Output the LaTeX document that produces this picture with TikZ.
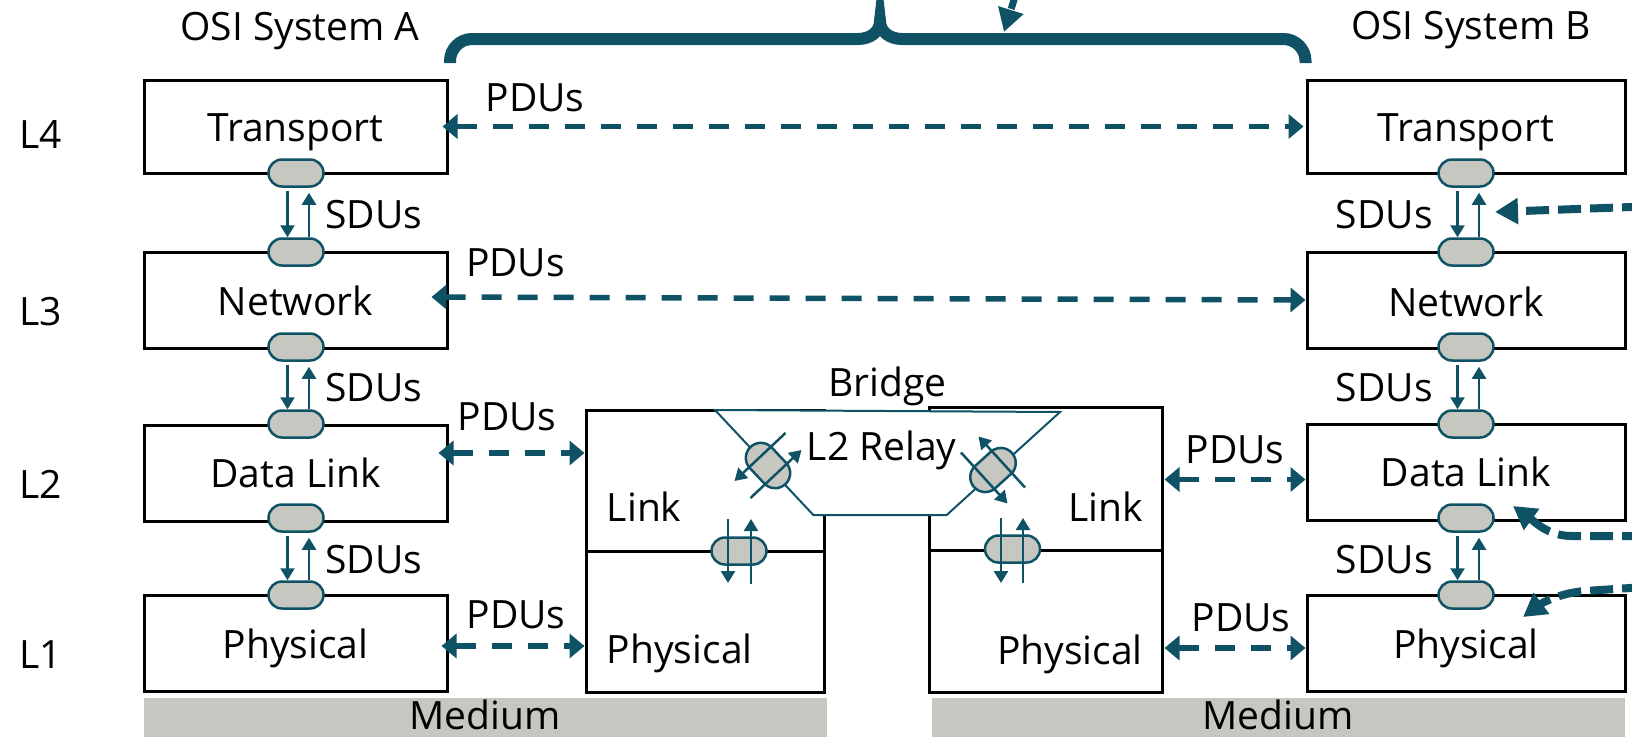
\documentclass[tikz,border=0pt]{standalone}
\usepackage{fontspec}
\setmainfont{Open Sans}
\usetikzlibrary{arrows.meta,calc}
\definecolor{hpeteal}{RGB}{15,82,101}
\definecolor{capgray}{RGB}{198,199,193}
\begin{document}
\begin{tikzpicture}[x=1pt,y=-1pt,
  txt/.style={font=\fontsize{39}{46}\selectfont, inner sep=0pt, anchor=base, text=black},
  lbox/.style={draw=black, line width=3pt, inner sep=0pt},
  medium/.style={fill=capgray, draw=none, inner sep=0pt},
  sap/.style={draw=hpeteal, fill=capgray, line width=2.5pt, rounded corners=13.5pt, minimum width=55pt, minimum height=27pt, inner sep=0pt},
  tsap/.style={sap, rounded corners=15pt, minimum width=51pt, minimum height=30pt},
  sdu/.style={draw=hpeteal, line width=2.5pt, -{Triangle[length=12pt,width=14pt]}},
  pdu/.style={draw=hpeteal, line width=5.5pt, dash pattern=on 20pt off 16pt, {Triangle[length=15pt,width=24pt]}-{Triangle[length=15pt,width=24pt]}},
  bigarrow/.style={draw=hpeteal, line width=8pt, dash pattern=on 23pt off 9pt, -{Triangle[length=23pt,width=25pt]}},
  relay/.style={draw=hpeteal, fill=white, line width=2pt, line join=miter},
  bracestyle/.style={draw=hpeteal, line width=12pt}
]
\useasboundingbox (0,0) rectangle (1632,736);
\clip (0,0) rectangle (1632,736);

% ---------- medium bars ----------
\node[medium, minimum width=682.7pt, minimum height=40pt] (mA) at (485.3,718) {};
\node[medium, minimum width=693.3pt, minimum height=40pt] (mB) at (1278.3,718) {};
\node[txt] at (485,729) {Medium};
\node[txt] at (1278,729) {Medium};

% ---------- system A ----------
\node[lbox, minimum width=303pt, minimum height=93pt] (tA) at (295.5,126.5) {};
\node[lbox, minimum width=303pt, minimum height=96pt] (nA) at (295.5,300) {};
\node[lbox, minimum width=303pt, minimum height=96pt] (dA) at (295.5,473) {};
\node[lbox, minimum width=303pt, minimum height=96pt] (pA) at (295.5,643) {};
% ---------- system B ----------
\node[lbox, minimum width=318pt, minimum height=93pt] (tB) at (1466,126.5) {};
\node[lbox, minimum width=318pt, minimum height=96pt] (nB) at (1466,300) {};
\node[lbox, minimum width=318pt, minimum height=96pt] (dB) at (1466,472.5) {};
\node[lbox, minimum width=318pt, minimum height=96pt] (pB) at (1466,643) {};
% ---------- bridge ----------
\node[lbox, minimum width=238pt, minimum height=141pt] (bLl) at (705,480.5) {};
\node[lbox, minimum width=238pt, minimum height=141pt] (bPl) at (705,621.5) {};
\node[lbox, minimum width=233pt, minimum height=143pt] (bLr) at (1045.5,478.5) {};
\node[lbox, minimum width=233pt, minimum height=142pt] (bPr) at (1045.5,621) {};
\draw[relay] (715,410) -- (1060,412) -- (946.7,515) -- (813.3,515) -- cycle;

% ---------- texts ----------
\node[txt] at (300,40) {OSI System A};
\node[txt] at (1471,39.5) {OSI System B};
\node[txt, anchor=base west] at (19,148) {L4};
\node[txt, anchor=base west] at (19,325) {L3};
\node[txt, anchor=base west] at (19,498) {L2};
\node[txt, anchor=base west] at (19,668) {L1};
\node[txt] at ($(tA.center)+(0,15)$) {Transport};
\node[txt] at ($(nA.center)+(0,15)$) {Network};
\node[txt] at ($(dA.center)+(0,14)$) {Data Link};
\node[txt] at ($(pA.center)+(0,15)$) {Physical};
\node[txt] at ($(tB.center)+(0,15)$) {Transport};
\node[txt] at ($(nB.center)+(0,16)$) {Network};
\node[txt] at ($(dB.center)+(0,14)$) {Data Link};
\node[txt] at ($(pB.center)+(0,15)$) {Physical};
\node[txt] at (887.5,396.7) {Bridge};
\node[txt] at (881.7,460) {L2 Relay};
\node[txt, anchor=base west] at (606.7,521.7) {Link};
\node[txt, anchor=base west] at (606.7,663.3) {Physical};
\node[txt, anchor=base east] at (1143,521) {Link};
\node[txt, anchor=base east] at (1143,664) {Physical};

% ---------- SAP capsules ----------
\node[sap] (sTA) at (296,173) {};
\node[sap] (sNA1) at (296,252) {};
\node[sap] (sNA2) at (296,347) {};
\node[sap] (sDA1) at (296,424) {};
\node[sap] (sDA2) at (296,518) {};
\node[sap] (sPA) at (296,595) {};
\node[sap] (sTB) at (1466,173) {};
\node[sap] (sNB1) at (1466,252) {};
\node[sap] (sNB2) at (1466,347) {};
\node[sap] (sDB1) at (1466,424) {};
\node[sap] (sDB2) at (1466,518) {};
\node[sap] (sPB) at (1466,595) {};
\node[sap] (capBL) at (739,551) {};
\node[sap] (capBR) at (1012.5,549) {};
\node[tsap, rotate=-46.9] (capL) at (768,465.5) {};
\node[tsap, rotate=42.3] (capR) at (993,470) {};

% ---------- SDU arrows ----------
\foreach \u/\l in {sTA/sNA1, sNA2/sDA1, sDA2/sPA, sTB/sNB1, sNB2/sDB1, sDB2/sPB}{
  \draw[sdu] ([xshift=-8.5pt,yshift=-3pt]\u.south) -- ([xshift=-8.5pt]\l.north);
  \draw[sdu] ([xshift=13pt]\l.north) -- ([xshift=13pt,yshift=-5pt]\u.south);
}
\node[txt, anchor=base west] at (325,228) {SDUs};
\node[txt, anchor=base west] at (325,401.7) {SDUs};
\node[txt, anchor=base west] at (325,573.3) {SDUs};
\node[txt, anchor=base east] at (1433,228) {SDUs};
\node[txt, anchor=base east] at (1433,401.7) {SDUs};
\node[txt, anchor=base east] at (1433,573.3) {SDUs};

% bridge crossing arrows
\draw[sdu] ($(capBL)+(-11,-32)$) -- ($(capBL)+(-11,32)$);
\draw[sdu] ($(capBL)+(12,33)$) -- ($(capBL)+(12,-32)$);
\draw[sdu] ($(capBR)+(-11.5,-31)$) -- ($(capBR)+(-11.5,34)$);
\draw[sdu] ($(capBR)+(10.5,34)$) -- ($(capBR)+(10.5,-31)$);
\draw[sdu] ($(capL)+(17.5,-32.5)$) -- ($(capL)+(-33.5,15.5)$);
\draw[sdu] ($(capL)+(-17.5,32.5)$) -- ($(capL)+(33.5,-15.5)$);
\draw[sdu] ($(capR)+(-32,-17.5)$) -- ($(capR)+(14.5,33.5)$);
\draw[sdu] ($(capR)+(32,17.5)$) -- ($(capR)+(-14.5,-33.5)$);

% ---------- PDU arrows ----------
\draw[pdu] ($(tA.east)+(-6,0)$) -- ($(tB.west)+(-2,0)$);
\draw[pdu] ($(nA.east)+(-17,-3)$) -- ($(nB.west)+(0,0)$);
\draw[pdu] ($(dA.east)+(-10,-20)$) -- ($(bLl.west)+(0,-27.5)$);
\draw[pdu] ($(pA.east)+(-7,3)$) -- ($(bPl.west)+(0,24.5)$);
\draw[pdu] ($(bLr.east)+(1,1)$) -- ($(dB.west)+(0,7)$);
\draw[pdu] ($(bPr.east)+(1,27)$) -- ($(pB.west)+(0,5)$);
\node[txt] at (535,111) {PDUs};
\node[txt] at (515.5,276.7) {PDUs};
\node[txt] at (507,430) {PDUs};
\node[txt] at (516,628.3) {PDUs};
\node[txt] at (1235,463.3) {PDUs};
\node[txt] at (1241,631.7) {PDUs};

% ---------- brace ----------
\draw[bracestyle] (450,63) -- (450,61) .. controls (450,48.9) and (459.9,39) .. (472,39)
  -- (858,39) .. controls (870,39) and (880,32) .. (880,21)
  .. controls (880,32) and (890,39) .. (902,39)
  -- (1283.5,39) .. controls (1295.6,39) and (1305.5,48.9) .. (1305.5,61) -- (1305.5,63);

% ---------- incoming thick arrows ----------
\coordinate (topsrc) at (1018,-13);
\coordinate (topdst) at (1004,32);
\draw[bigarrow, line width=7pt] (topsrc) -- (topdst);
\coordinate (r1src) at (1645,206.5);
\coordinate (r1dst) at (1495,212);
\draw[bigarrow] (r1src) -- (r1dst);
\coordinate (r2src) at (1645,536);
\coordinate (r2dst) at (1513,506);
\draw[bigarrow] (r2src) -- (1572,536) .. controls (1548,536) and (1535,522) .. (r2dst);
\coordinate (r3src) at (1645,587);
\coordinate (r3dst) at (1523,617);
\draw[bigarrow] (r3src) -- (1585,591) .. controls (1560,593) and (1542,603) .. (r3dst);
\end{tikzpicture}
\end{document}
